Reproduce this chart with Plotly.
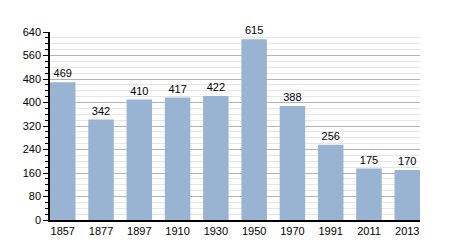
import plotly.graph_objects as go

years = ["1857", "1877", "1897", "1910", "1930", "1950", "1970", "1991", "2011", "2013"]
population = [469, 342, 410, 417, 422, 615, 388, 256, 175, 170]
y_ticks = [0, 80, 160, 240, 320, 400, 480, 560, 640]

fig = go.Figure(go.Bar(
    x=years, y=population, width=0.667,
    marker=dict(color="#98b4d2", line=dict(width=0)),
    text=[str(v) for v in population], textposition="outside",
    textfont=dict(family="Liberation Sans, Arial", size=11, color="black"),
    cliponaxis=False,
))

fig.update_layout(
    width=450, height=250,
    margin=dict(l=50, r=30, t=32, b=30),
    paper_bgcolor="white", plot_bgcolor="white",
    showlegend=False,
    bargap=0.333,
    font=dict(family="Liberation Sans, Arial", size=11, color="black"),
)
fig.update_xaxes(
    type="category", range=[-0.333, 9.333],
    showline=True, linecolor="black", linewidth=1.5,
    ticks="", showgrid=False,
    tickfont=dict(size=11, color="black"),
)
fig.update_yaxes(
    range=[0, 640], tickvals=y_ticks,
    showline=True, linecolor="black", linewidth=1.5,
    ticks="outside", ticklen=5, tickcolor="black",
    showgrid=True, gridcolor="#b4b4b4", gridwidth=1,
    minor=dict(dtick=20, showgrid=True, gridcolor="#e6e6e6", gridwidth=1,
               ticks="outside", ticklen=3, tickcolor="black"),
    zeroline=False,
    tickfont=dict(size=11, color="black"),
)

fig.write_html("out.html")
